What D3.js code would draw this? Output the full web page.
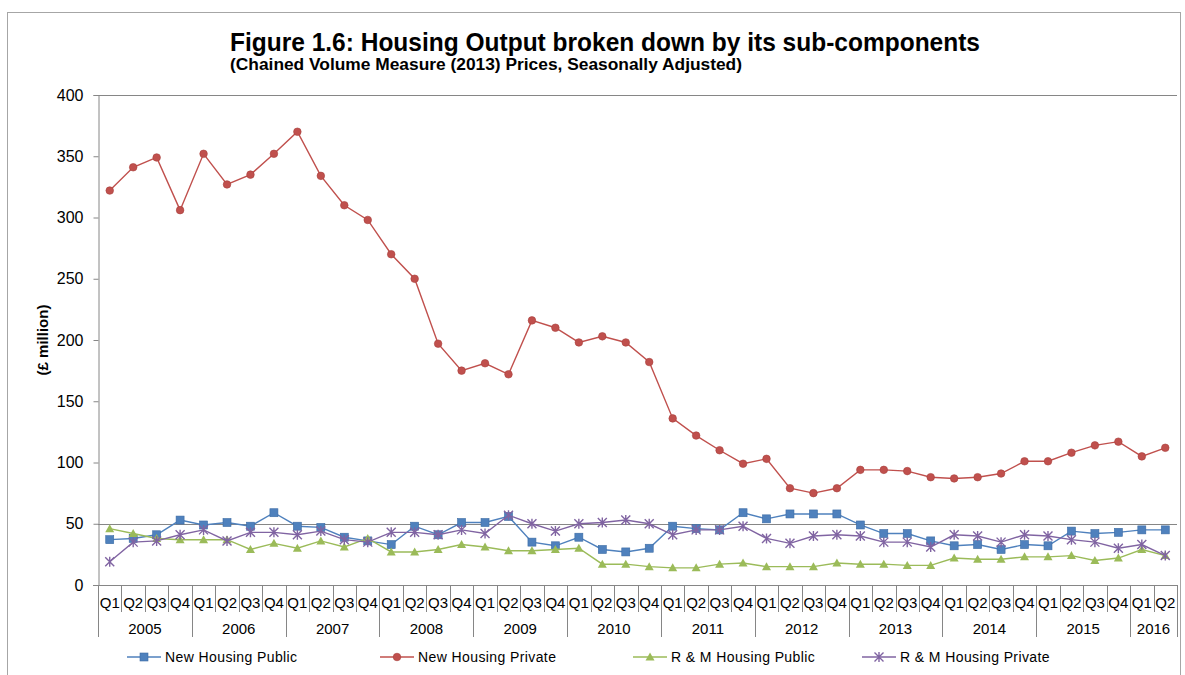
<!DOCTYPE html>
<html>
<head>
<meta charset="utf-8">
<script src="https://cdn.jsdelivr.net/npm/d3@7"></script>
<style>
  body { margin: 0; background: #fff; }
  svg text { font-family: Arial, "Liberation Sans", sans-serif; }
</style>
</head>
<body>
<div id="chart"></div>
<script>
// ---------------------------------------------------------
// DATA
// ---------------------------------------------------------
const years = ["2005", "2006", "2007", "2008", "2009", "2010", "2011", "2012", "2013", "2014", "2015", "2016"];
const quarterLabels = ["Q1", "Q2", "Q3", "Q4"];

const newHousingPublic = [
  37, 38, 41, 53, 49, 51, 48, 59, 48, 47, 39, 36,
  33, 48, 41, 51, 51, 56, 35, 32, 39, 29, 27, 30,
  48, 46, 45, 59, 54, 58, 58, 58, 49, 42, 42, 36,
  32, 33, 29, 33, 32, 44, 42, 43, 45, 45
];
const newHousingPrivate = [
  322, 341, 349, 306, 352, 327, 335, 352, 370, 334, 310, 298,
  270, 250, 197, 175, 181, 172, 216, 210, 198, 203, 198, 182,
  136, 122, 110, 99, 103, 79, 75, 79, 94, 94, 93, 88,
  87, 88, 91, 101, 101, 108, 114, 117, 105, 112
];
const rmHousingPublic = [
  46, 42, 38, 37, 37, 37, 29, 34, 30, 36, 31, 38,
  27, 27, 29, 33, 31, 28, 28, 29, 30, 17, 17, 15,
  14, 14, 17, 18, 15, 15, 15, 18, 17, 17, 16, 16,
  22, 21, 21, 23, 23, 24, 20, 22, 29, 24
];
const rmHousingPrivate = [
  19, 35, 36, 41, 45, 36, 43, 43, 41, 44, 37, 35,
  43, 43, 41, 45, 42, 57, 50, 44, 50, 51, 53, 50,
  41, 45, 45, 48, 38, 34, 40, 41, 40, 35, 35, 31,
  41, 40, 35, 41, 40, 37, 35, 30, 33, 24
];

const seriesNames = ["New Housing Public", "New Housing Private", "R & M Housing Public", "R & M Housing Private"];
const yTicks = [0, 50, 100, 150, 200, 250, 300, 350, 400];

// ---------------------------------------------------------
// SETUP
// ---------------------------------------------------------
const width = 1185, height = 675;
const plot = { left: 98, right: 1177, top: 95, bottom: 585 };
const axisGrey = "#868686";

const quarters = [];
years.forEach(y => quarterLabels.forEach(q => quarters.push({ year: y, q: q, key: y + q })));
quarters.length = newHousingPrivate.length;

const series = [
  { name: seriesNames[0], values: newHousingPublic, color: "#4F81BD", marker: "square" },
  { name: seriesNames[1], values: newHousingPrivate, color: "#C0504D", marker: "circle" },
  { name: seriesNames[2], values: rmHousingPublic, color: "#9BBB59", marker: "triangle" },
  { name: seriesNames[3], values: rmHousingPrivate, color: "#8064A2", marker: "star" }
];

const svg = d3.select("#chart").append("svg")
  .attr("width", width).attr("height", height);

// outer frame
svg.append("rect")
  .attr("x", 7.5).attr("y", 12.5)
  .attr("width", 1173).attr("height", 700)
  .attr("fill", "none").attr("stroke", "#a6a6a6");

const x = d3.scaleBand()
  .domain(quarters.map(d => d.key))
  .range([plot.left, plot.right]);

const y = d3.scaleLinear().domain([0, 400]).range([plot.bottom, plot.top]);

// title (condensed bold, as in the original)
const narrow = "'Liberation Sans Narrow', 'Arial Narrow', Arial, sans-serif";
svg.append("text")
  .attr("x", 230).attr("y", 51)
  .attr("textLength", 750).attr("lengthAdjust", "spacingAndGlyphs")
  .style("font-family", narrow)
  .style("font-size", "26px").style("font-weight", "bold")
  .text("Figure 1.6: Housing Output broken down by its sub-components");
svg.append("text")
  .attr("x", 230).attr("y", 70)
  .attr("textLength", 512).attr("lengthAdjust", "spacingAndGlyphs")
  .style("font-family", narrow)
  .style("font-size", "16px").style("font-weight", "bold")
  .text("(Chained  Volume Measure (2013)  Prices, Seasonally Adjusted)");

// y axis label
svg.append("text")
  .attr("transform", "translate(48,340) rotate(-90)")
  .attr("text-anchor", "middle")
  .style("font-size", "15px").style("font-weight", "bold")
  .text("(£ million)");

// plot top border and 50 gridline
svg.append("line")
  .attr("x1", plot.left).attr("x2", plot.right)
  .attr("y1", y(400) + 0.5).attr("y2", y(400) + 0.5)
  .attr("stroke", axisGrey);
svg.append("line")
  .attr("x1", plot.left).attr("x2", plot.right)
  .attr("y1", Math.round(y(50)) + 0.5).attr("y2", Math.round(y(50)) + 0.5)
  .attr("stroke", axisGrey);

// y axis
const yAxis = svg.append("g")
  .attr("transform", `translate(${plot.left + 0.5},0)`)
  .call(d3.axisLeft(y).tickValues(yTicks).tickSize(5).tickPadding(10));
yAxis.select(".domain").attr("stroke", axisGrey);
yAxis.selectAll(".tick line").attr("stroke", axisGrey);
yAxis.selectAll("text").style("font-size", "16px").attr("fill", "#000")
  .style("font-family", "Arial, 'Liberation Sans', sans-serif");

// x axis (two-level categories)
const xg = svg.append("g");
xg.append("line")
  .attr("x1", plot.left - 5).attr("x2", plot.right)
  .attr("y1", plot.bottom + 0.5).attr("y2", plot.bottom + 0.5)
  .attr("stroke", axisGrey);

quarters.forEach(d => {
  const x0 = Math.round(x(d.key)) + 0.5;
  const isYearStart = d.q === "Q1";
  xg.append("line")
    .attr("x1", x0).attr("x2", x0)
    .attr("y1", plot.bottom).attr("y2", isYearStart ? 637 : 612)
    .attr("stroke", axisGrey);
  xg.append("text")
    .attr("x", x(d.key) + x.bandwidth() / 2).attr("y", 608)
    .attr("text-anchor", "middle")
    .style("font-size", "15px")
    .text(d.q);
});
xg.append("line")
  .attr("x1", plot.right + 0.5).attr("x2", plot.right + 0.5)
  .attr("y1", plot.bottom).attr("y2", 637)
  .attr("stroke", axisGrey);

years.forEach(yr => {
  const qs = quarters.filter(d => d.year === yr);
  const x0 = x(qs[0].key);
  const x1 = x(qs[qs.length - 1].key) + x.bandwidth();
  xg.append("text")
    .attr("x", (x0 + x1) / 2).attr("y", 634)
    .attr("text-anchor", "middle")
    .style("font-size", "15px")
    .text(yr);
});

// markers
function drawMarker(g, type, cx, cy, color) {
  if (type === "square") {
    g.append("rect").attr("x", cx - 4).attr("y", cy - 4).attr("width", 8).attr("height", 8)
      .attr("fill", color).attr("stroke", "#3c6ca5").attr("stroke-width", 0.6);
  } else if (type === "circle") {
    g.append("circle").attr("cx", cx).attr("cy", cy).attr("r", 3.8)
      .attr("fill", color).attr("stroke", "#a8403d").attr("stroke-width", 0.6);
  } else if (type === "triangle") {
    g.append("path")
      .attr("d", `M${cx},${cy - 4.5}L${cx + 4.5},${cy + 3.5}L${cx - 4.5},${cy + 3.5}Z`)
      .attr("fill", color);
  } else {
    const r = 4.5;
    g.append("path")
      .attr("d", `M${cx - r},${cy - r}L${cx + r},${cy + r}M${cx - r},${cy + r}L${cx + r},${cy - r}M${cx},${cy - r - 0.5}L${cx},${cy + r + 0.5}`)
      .attr("stroke", color).attr("stroke-width", 1.4).attr("fill", "none");
  }
}

const line = d3.line()
  .x((d, i) => x(quarters[i].key) + x.bandwidth() / 2)
  .y(d => y(d));

series.forEach(s => {
  const g = svg.append("g");
  g.append("path")
    .attr("d", line(s.values))
    .attr("fill", "none")
    .attr("stroke", s.color)
    .attr("stroke-width", 1.4);
  s.values.forEach((v, i) => {
    drawMarker(g, s.marker, x(quarters[i].key) + x.bandwidth() / 2, y(v), s.color);
  });
});

// legend
const legendX = [127, 380, 633, 862];
series.forEach((s, i) => {
  const g = svg.append("g").attr("transform", `translate(${legendX[i]},657)`);
  g.append("line").attr("x1", 0).attr("x2", 34).attr("y1", 0).attr("y2", 0)
    .attr("stroke", s.color).attr("stroke-width", 1.4);
  drawMarker(g, s.marker, 17, 0, s.color);
  g.append("text").attr("x", 38).attr("y", 5)
    .style("font-size", "14px").style("letter-spacing", "0.4px")
    .text(s.name);
});
</script>
</body>
</html>
